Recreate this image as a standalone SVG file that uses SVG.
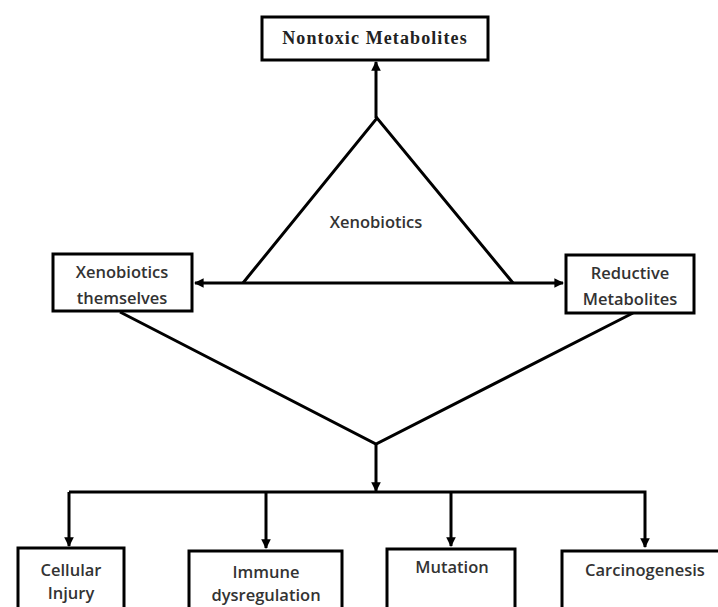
<svg xmlns="http://www.w3.org/2000/svg" width="718" height="607" viewBox="0 0 718 607">
<style>
.box{fill:#fff;stroke:#000;stroke-width:3}
.ln{fill:none;stroke:#000;stroke-width:3}
.t{font-family:"Open Sans","Liberation Sans",sans-serif;font-size:16.5px;font-weight:600;fill:#333;text-anchor:middle}
.s{font-family:"Liberation Serif",serif;font-size:18px;font-weight:bold;fill:#222;text-anchor:middle;letter-spacing:1.1px}
</style>
<defs>
<marker id="ah" viewBox="0 0 10 10" refX="9" refY="5" markerWidth="3.2" markerHeight="3.2" orient="auto" markerUnits="strokeWidth">
<path d="M0,0 L10,5 L0,10 Z" fill="#000"/>
</marker>
</defs>
<g id="connectors">
<line class="ln" x1="376" y1="118" x2="376" y2="62" marker-end="url(#ah)"/>
<polyline class="ln" points="243,283 377,118 513,283"/>
<line class="ln" x1="376" y1="283" x2="195" y2="283" marker-end="url(#ah)"/>
<line class="ln" x1="376" y1="283" x2="563" y2="283" marker-end="url(#ah)"/>
<polyline class="ln" points="120,312 376,444 633,313"/>
<line class="ln" x1="376" y1="444" x2="376" y2="491" marker-end="url(#ah)"/>
<polyline class="ln" points="69,492 645,492 645,547" marker-end="url(#ah)"/>
<line class="ln" x1="69" y1="492" x2="69" y2="546" marker-end="url(#ah)"/>
<line class="ln" x1="266" y1="492" x2="266" y2="548" marker-end="url(#ah)"/>
<line class="ln" x1="451" y1="492" x2="451" y2="546" marker-end="url(#ah)"/>
</g>
<g id="nontoxic">
<rect class="box" x="262" y="17" width="226" height="43"/>
<text class="s" x="375" y="44">Nontoxic Metabolites</text>
</g>
<g id="xenobiotics">
<text class="t" x="376" y="228">Xenobiotics</text>
</g>
<g id="themselves">
<rect class="box" x="53" y="254" width="139" height="57"/>
<text class="t" x="122" y="278">Xenobiotics</text>
<text class="t" x="122" y="304">themselves</text>
</g>
<g id="reductive">
<rect class="box" x="566" y="255" width="128" height="58"/>
<text class="t" x="630" y="279">Reductive</text>
<text class="t" x="630" y="305">Metabolites</text>
</g>
<g id="cellular">
<rect class="box" x="18" y="548" width="106" height="70"/>
<text class="t" x="71" y="576">Cellular</text>
<text class="t" x="71" y="599">Injury</text>
</g>
<g id="immune">
<rect class="box" x="189" y="551" width="153" height="70"/>
<text class="t" x="266" y="578">Immune</text>
<text class="t" x="266" y="601">dysregulation</text>
</g>
<g id="mutation">
<rect class="box" x="387" y="549" width="128" height="70"/>
<text class="t" x="452" y="573">Mutation</text>
</g>
<g id="carcinogenesis">
<rect class="box" x="562" y="551" width="170" height="70"/>
<text class="t" x="645" y="576">Carcinogenesis</text>
</g>
</svg>
